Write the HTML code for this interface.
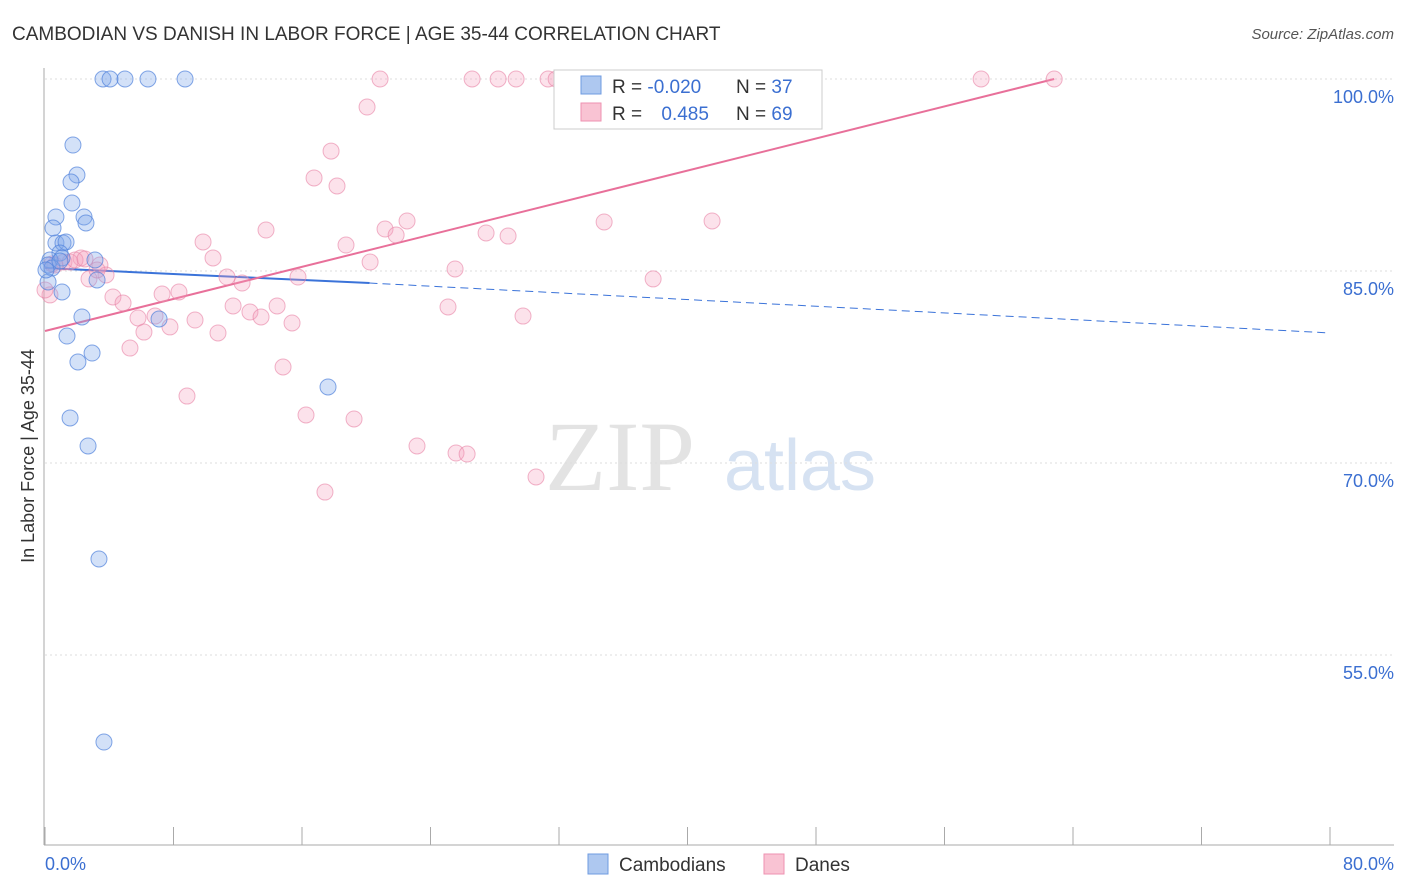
<!DOCTYPE html>
<html><head><meta charset="utf-8">
<style>
body{margin:0;background:#fff;font-family:"Liberation Sans",sans-serif;}
#wrap{position:relative;width:1406px;height:892px;overflow:hidden;}
</style></head>
<body>
<div id="wrap">
<svg id="chart" width="1406" height="892" xmlns="http://www.w3.org/2000/svg">
<text x="12" y="40" font-size="19" fill="#333">CAMBODIAN VS DANISH IN LABOR FORCE | AGE 35-44 CORRELATION CHART</text>
<text x="1394" y="39" font-size="15" fill="#555" text-anchor="end" font-style="italic">Source: ZipAtlas.com</text>
<text x="620" y="490" font-size="100" fill="#e3e3e3" font-family="Liberation Serif,serif" text-anchor="middle">ZIP</text>
<text x="800" y="490" font-size="72" fill="#d6e2f2" text-anchor="middle">atlas</text>
<g id="grid"></g><g id="axes"></g><g id="trends"></g><g id="pts"></g>
<text x="34" y="456" font-size="18" fill="#333" text-anchor="middle" transform="rotate(-90 34 456)">In Labor Force | Age 35-44</text>
<text x="45" y="870" font-size="18" fill="#3b6fd1">0.0%</text>
<text x="1394" y="870" font-size="18" fill="#3b6fd1" text-anchor="end">80.0%</text>
<g>
<rect x="554" y="70" width="268" height="59" fill="#fff" stroke="#ccc"/>
<rect x="581" y="76" width="20" height="18" fill="#aec8f0" stroke="#6f9be0"/>
<rect x="581" y="103" width="20" height="18" fill="#f9c3d3" stroke="#ee92b0"/>
<text x="612" y="93" font-size="19" fill="#333">R = <tspan fill="#3b6fd1">-0.020</tspan></text>
<text x="736" y="93" font-size="19" fill="#333">N = <tspan fill="#3b6fd1">37</tspan></text>
<text x="612" y="120" font-size="19" fill="#333">R = <tspan fill="#3b6fd1" dx="14">0.485</tspan></text>
<text x="736" y="120" font-size="19" fill="#333">N = <tspan fill="#3b6fd1">69</tspan></text>
</g>
<g>
<rect x="588" y="854" width="20" height="20" fill="#aec8f0" stroke="#6f9be0"/>
<text x="619" y="871" font-size="19" fill="#333">Cambodians</text>
<rect x="764" y="854" width="20" height="20" fill="#f9c3d3" stroke="#ee92b0"/>
<text x="795" y="871" font-size="19" fill="#333">Danes</text>
</g>
</svg>
</div>
<script>
const yTicks=[100,85,70,55];
const yTickLabels=["100.0%","85.0%","70.0%","55.0%"];
const xTicks=[0,8,16,24,32,40,48,56,64,72,80];
const camX=[3.61,4.05,4.98,6.41,8.72,1.74,1.99,1.62,1.68,0.68,2.43,2.55,0.50,0.68,1.12,1.31,0.93,1.06,0.31,0.19,0.44,3.11,0.19,3.24,1.06,2.30,7.10,1.37,2.93,2.05,1.56,2.68,17.62,3.36,3.67,0.06,0.93];
const camY=[100,100,100,100,100,94.84,92.5,91.95,90.31,89.22,89.22,88.75,88.36,87.19,87.19,87.27,86.41,86.02,85.86,85.47,85.23,85.86,84.14,84.30,83.36,81.41,81.25,79.92,78.59,77.89,73.52,71.33,75.94,62.5,48.2,85.08,85.78];
const danX=[20.86,26.59,28.21,29.33,31.32,31.82,35.43,37.05,47.63,58.28,62.83,20.05,17.81,16.75,18.18,34.81,41.53,22.54,13.76,21.17,21.86,27.46,28.83,9.84,18.74,10.46,20.24,2.24,3.42,25.53,11.33,12.27,15.75,37.86,2.74,3.80,4.23,4.86,7.29,8.34,11.71,14.45,25.09,12.76,13.45,5.79,6.85,9.34,7.78,15.38,29.76,10.77,6.16,5.29,14.82,8.84,16.25,19.24,23.16,25.59,26.28,30.57,17.43,0.44,0.62,1.18,1.56,0.31,0.0,1.87,2.49,3.24];
const danY=[100,100,100,100,100,100,100,100,100,100,100,97.81,94.37,92.27,91.64,88.83,88.91,88.91,88.20,88.28,87.81,87.97,87.73,87.27,87.03,86.02,85.70,86.02,85.47,85.16,84.53,84.06,84.53,84.38,84.38,84.69,82.97,82.50,83.20,83.36,82.27,82.27,82.19,81.80,81.41,81.33,81.48,81.17,80.63,80.94,81.48,80.16,80.23,78.98,77.50,75.23,73.75,73.44,71.33,70.78,70.70,68.91,67.73,85.55,85.47,85.70,85.70,83.13,83.52,85.86,85.94,85.08];
const camTrendX=[0,20.2,80];
const camTrendY=[85.23,84.06,80.16];
const danTrendX=[0,62.83];
const danTrendY=[80.31,100];

const X=v=>45+v*1285/80;
const Y=v=>79+(100-v)*12.8;
const NS="http://www.w3.org/2000/svg";
function mk(tag,attrs,parent){const e=document.createElementNS(NS,tag);for(const k in attrs)e.setAttribute(k,attrs[k]);parent.appendChild(e);return e;}
const grid=document.getElementById('grid'),axes=document.getElementById('axes'),tr=document.getElementById('trends'),pts=document.getElementById('pts');
const svg=document.getElementById('chart');
yTicks.forEach((t,i)=>{
  const l=mk('line',{x1:45,x2:1394,y1:Y(t),y2:Y(t),stroke:'#ddd','stroke-dasharray':'2,3'},grid);
  
  
  const tx=mk('text',{x:1394,y:Y(t)+24,'font-size':18,fill:'#3b6fd1','text-anchor':'end'},grid);
  tx.textContent=yTickLabels[i];
  
  
});
const ax=mk('line',{x1:44,x2:44,y1:68,y2:845,stroke:'#aaa'},axes);


const bx=mk('line',{x1:44,x2:1394,y1:845,y2:845,stroke:'#aaa'},axes);


xTicks.forEach(t=>{
  const l=mk('line',{x1:X(t),x2:X(t),y1:827,y2:845,stroke:'#aaa'},axes);
  
  
});
// trends
const c1=mk('line',{x1:X(camTrendX[0]),y1:Y(camTrendY[0]),x2:X(camTrendX[1]),y2:Y(camTrendY[1]),stroke:'#3b73d9','stroke-width':2},tr);


const c2=mk('line',{x1:X(camTrendX[1]),y1:Y(camTrendY[1]),x2:X(camTrendX[2]),y2:Y(camTrendY[2]),stroke:'#3b73d9','stroke-width':1,'stroke-dasharray':'8,5'},tr);


const d1=mk('line',{x1:X(danTrendX[0]),y1:Y(danTrendY[0]),x2:X(danTrendX[1]),y2:Y(danTrendY[1]),stroke:'#e8709a','stroke-width':2},tr);


danX.forEach((v,i)=>{
  const c=mk('circle',{cx:X(v),cy:Y(danY[i]),r:8,fill:'rgba(245,160,190,0.3)',stroke:'rgba(232,130,165,0.6)'},pts);
  
  
});
camX.forEach((v,i)=>{
  const c=mk('circle',{cx:X(v),cy:Y(camY[i]),r:8,fill:'rgba(130,170,235,0.35)',stroke:'rgba(80,130,220,0.7)'},pts);
  
  
});
</script>
</body></html>
